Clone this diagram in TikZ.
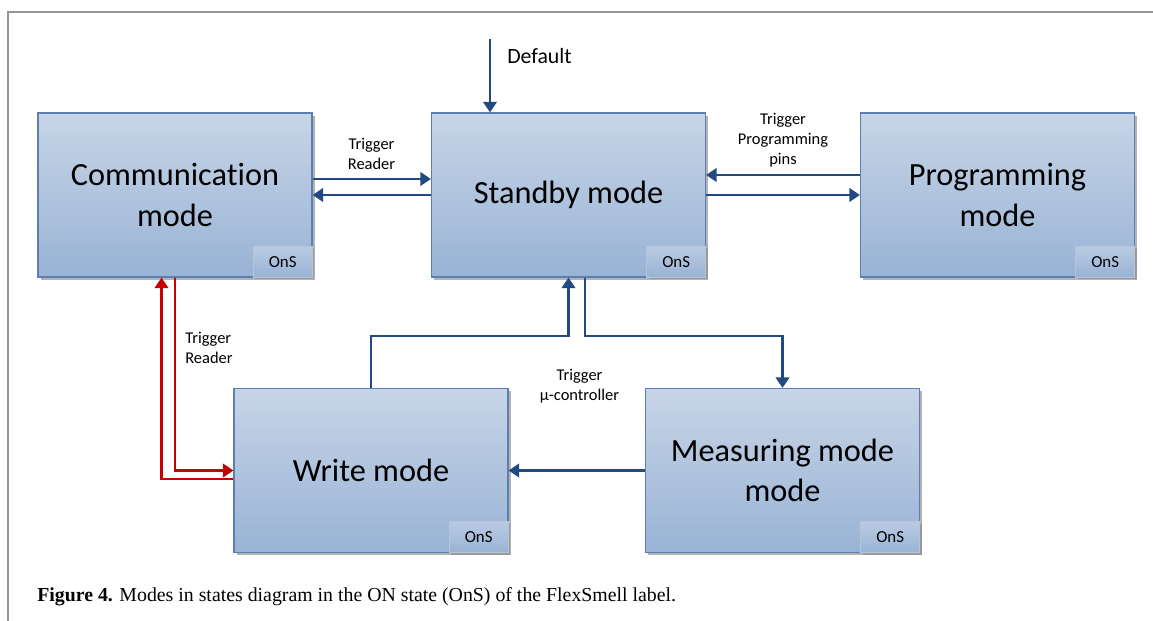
\documentclass[tikz,border=0pt]{standalone}
\usepackage{fontspec}
\setmainfont[Ligatures=NoCommon]{Carlito}
\newfontfamily\capfont{Liberation Serif}
\usetikzlibrary{arrows.meta,shadows}

\definecolor{boxtop}{RGB}{199,213,231}
\definecolor{boxbot}{RGB}{153,179,213}
\definecolor{boxline}{RGB}{92,126,178}
\definecolor{flowblue}{RGB}{33,74,130}
\definecolor{flowred}{RGB}{200,0,0}

\begin{document}
\begin{tikzpicture}[
	modebox/.style={draw=boxline, line width=0.8pt, top color=boxtop, bottom color=boxbot, minimum width=6.85cm, minimum height=4.1cm, align=center, font=\fontsize{23}{28.5}\selectfont, drop shadow={shadow xshift=0.07cm, shadow yshift=-0.07cm, fill=black!50, opacity=0.6}},
	onsbox/.style={draw=boxline!45, line width=0.6pt, top color=boxtop!70!boxbot, bottom color=boxbot, minimum width=1.475cm, minimum height=0.775cm, inner sep=0pt, anchor=south east, font=\fontsize{12}{14}\selectfont, drop shadow={shadow xshift=0.05cm, shadow yshift=-0.05cm, fill=black!50, opacity=0.5}},
	trig/.style={align=center, inner sep=0pt, font=\fontsize{11.7}{14.2}\selectfont},
	flow/.style={draw=flowblue, line width=2.1pt, -{Triangle[length=7.5pt,width=9.5pt]}},
	redflow/.style={flow, draw=flowred}
]
	\useasboundingbox (0,0) rectangle (28.825,-15.525);
	\draw[black!42, line width=1.4pt] (28.825,-0.3) -- (0.2,-0.3) -- (0.2,-15.525);

	\node[modebox] at (4.375,-4.875) (COMM){Communication\\mode};
	\node[modebox, right of=COMM, node distance=9.8375cm](SB){Standby mode};
	\node[modebox, right of=SB, node distance=10.725cm](PRG){Programming\\mode};
	\node[modebox, below of=COMM, node distance=6.8875cm, xshift=4.9cm](WR){Write mode};
	\node[modebox, right of=WR, node distance=10.2875cm](MS){Measuring mode\\mode};

	\node[onsbox] at (COMM.south east)(O1){OnS};
	\node[onsbox] at (SB.south east)(O2){OnS};
	\node[onsbox] at (PRG.south east)(O3){OnS};
	\node[onsbox] at (WR.south east)(O4){OnS};
	\node[onsbox] at (MS.south east)(O5){OnS};

	\coordinate[above of=SB, node distance=3.9cm, xshift=-1.9625cm](DEF);
	\node[right of=DEF, node distance=1.2375cm, yshift=-0.425cm, inner sep=0pt, font=\fontsize{15.5}{18}\selectfont](DEFL){Default};
	\draw[flow] (DEF) -- (DEF |- SB.north);

	\draw[flow] ([yshift=0.4cm]COMM.east) -- ([yshift=0.4cm]SB.west);
	\draw[flow] (SB.west) -- (COMM.east);
	\node[trig, right of=COMM, node distance=4.9125cm, yshift=1.025cm](TR1){Trigger\\Reader};

	\draw[flow] ([yshift=0.5cm]PRG.west) -- ([yshift=0.5cm]SB.east);
	\draw[flow] (SB.east) -- (PRG.west);
	\node[trig, right of=SB, node distance=5.3625cm, yshift=1.375cm](TR2){Trigger\\Programming\\pins};

	\draw[redflow] ([yshift=-0.2125cm]WR.west) -| ([xshift=-0.3375cm]COMM.south);
	\draw[redflow] (COMM.south) |- (WR.west);
	\node[trig, align=left, anchor=west] at ([xshift=0.25cm, yshift=-1.75cm]COMM.south)(TR3){Trigger\\Reader};

	\coordinate[below of=SB, node distance=3.525cm](JOIN);
	\draw[flow] (WR.north) |- (JOIN) -- (SB.south);
	\draw[flow] ([xshift=0.4125cm]SB.south) -- ([xshift=0.4125cm]JOIN) -| (MS.north);
	\draw[flow] (MS.west) -- (WR.east);
	\node[trig, below of=JOIN, node distance=1.25cm, xshift=0.275cm](TR4){Trigger\\µ-controller};

	\node[anchor=west, inner sep=0pt, font=\capfont\fontsize{14.1}{16}\selectfont] at (0.925,-14.925)(CAP){\textbf{Figure 4.} Modes in states diagram in the ON state (OnS) of the FlexSmell label.};
\end{tikzpicture}
\end{document}
